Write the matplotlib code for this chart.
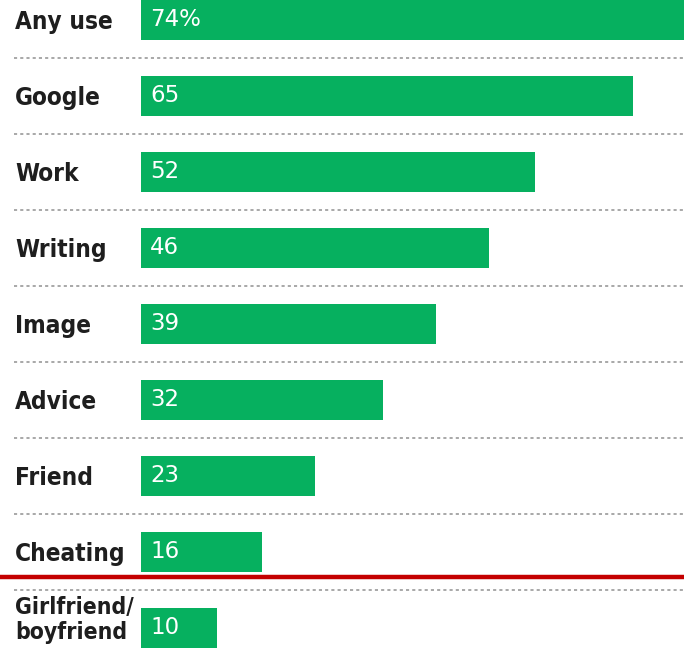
import matplotlib.pyplot as plt

cats = ["Any use", "Google", "Work", "Writing", "Image", "Advice", "Friend",
        "Cheating", "Girlfriend/\nboyfriend"]
vals = [74, 65, 52, 46, 39, 32, 23, 16, 10]
val_txt = ["74%", "65", "52", "46", "39", "32", "23", "16", "10"]

green = "#06b05f"
lab_font = ["DejaVu Sans"]

fig = plt.figure(figsize=(6.84, 6.52), dpi=100)
ax = fig.add_axes([0, 0, 1, 1])
# x in percent units (bars start at 0), y in row units
ax.set_xlim(-18.63, 71.73)
ax.set_ylim(8.316, -0.263)
ax.axis("off")

rows = list(range(len(cats)))
ax.barh(rows, vals, height=0.515, color=green, left=0)

for i, (c, t) in enumerate(zip(cats, val_txt)):
    two_line = "\n" in c
    ax.text(-16.6, i - 0.1 if two_line else i + 0.02, c, ha="left",
            va="center", fontsize=16.5 if two_line else 17.5,
            fontweight="bold", fontstretch="condensed", color="#1e1e1e",
            family=lab_font, linespacing=1.1)
    ax.text(1.2, i, t, ha="left", va="center", fontsize=16.5,
            color="white", family=lab_font)

# dotted separators between rows
for i in range(len(cats) - 1):
    ax.plot([-16.8, 71.73], [i + 0.5, i + 0.5], color="#a8a8a8", lw=1.4,
            linestyle=(0, (1.6, 1.6)))

# red rule under the last main item
ax.plot([-18.63, 71.73], [7.33, 7.33], color="#c40000", lw=3.2,
        solid_capstyle="butt")

fig.savefig("out.png", dpi=100)
